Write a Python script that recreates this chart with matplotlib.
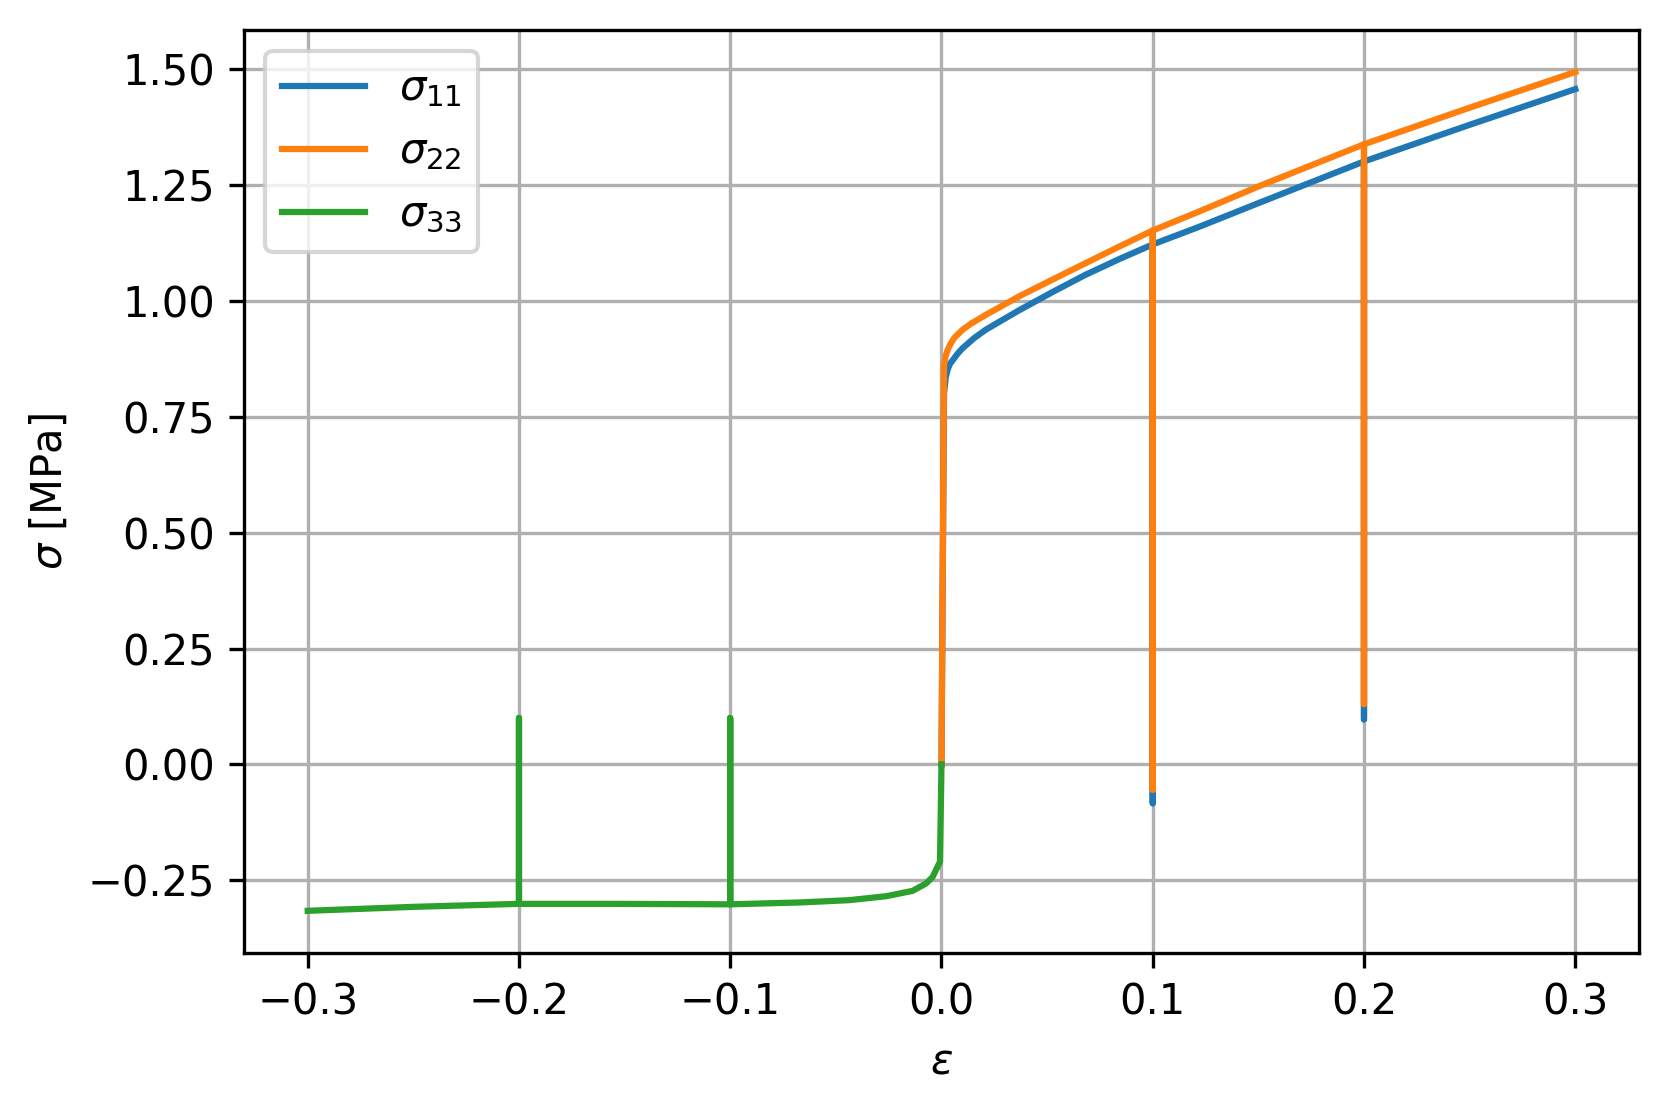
import matplotlib
matplotlib.use("Agg")
import matplotlib.pyplot as plt

# tension branch, sigma_11 (unload/reload at 0.1 and 0.2)
eps_11 = [0, 0.0012, 0.002, 0.003, 0.004, 0.0076, 0.010, 0.0155, 0.021, 0.0368, 0.0525,
          0.068, 0.084, 0.1, 0.1, 0.1, 0.122, 0.15, 0.2, 0.2, 0.2, 0.25, 0.3]
sig_11 = [0, 0.80, 0.835, 0.853, 0.864, 0.886, 0.898, 0.920, 0.938, 0.980, 1.019,
          1.056, 1.090, 1.122, -0.084, 1.122, 1.160, 1.211, 1.301, 0.097, 1.301, 1.380, 1.457]

# tension branch, sigma_22
eps_22 = [0, 0.0012, 0.002, 0.003, 0.004, 0.006, 0.010, 0.014, 0.021, 0.0368, 0.0525,
          0.068, 0.084, 0.1, 0.1, 0.1, 0.122, 0.15, 0.2, 0.2, 0.2, 0.25, 0.3]
sig_22 = [0, 0.86, 0.882, 0.895, 0.905, 0.920, 0.938, 0.951, 0.970, 1.010, 1.046,
          1.081, 1.117, 1.152, -0.055, 1.152, 1.193, 1.247, 1.338, 0.130, 1.338, 1.417, 1.494]

# compression branch, sigma_33
eps_33 = [0, -0.0007, -0.0042, -0.0073, -0.0137, -0.0263, -0.0436, -0.067, -0.1, -0.1, -0.1,
          -0.1556, -0.2, -0.2, -0.2, -0.25, -0.3]
sig_33 = [0, -0.21, -0.243, -0.257, -0.273, -0.2846, -0.293, -0.298, -0.302, 0.1, -0.302,
          -0.301, -0.301, 0.1, -0.301, -0.3075, -0.316]

fig = plt.figure(figsize=(1669 / 300, 1109 / 300), dpi=300)
ax = fig.add_axes([0.1464, 0.1409, 0.8354, 0.8320])

ax.plot(eps_11, sig_11, label=r'$\sigma_{11}$')
ax.plot(eps_22, sig_22, label=r'$\sigma_{22}$')
ax.plot(eps_33, sig_33, label=r'$\sigma_{33}$')

ax.set_xlabel(r'$\varepsilon$')
ax.set_ylabel(r'$\sigma$ [MPa]')
ax.grid(True)
ax.legend(loc='upper left')

fig.savefig('out.png', dpi=300)
